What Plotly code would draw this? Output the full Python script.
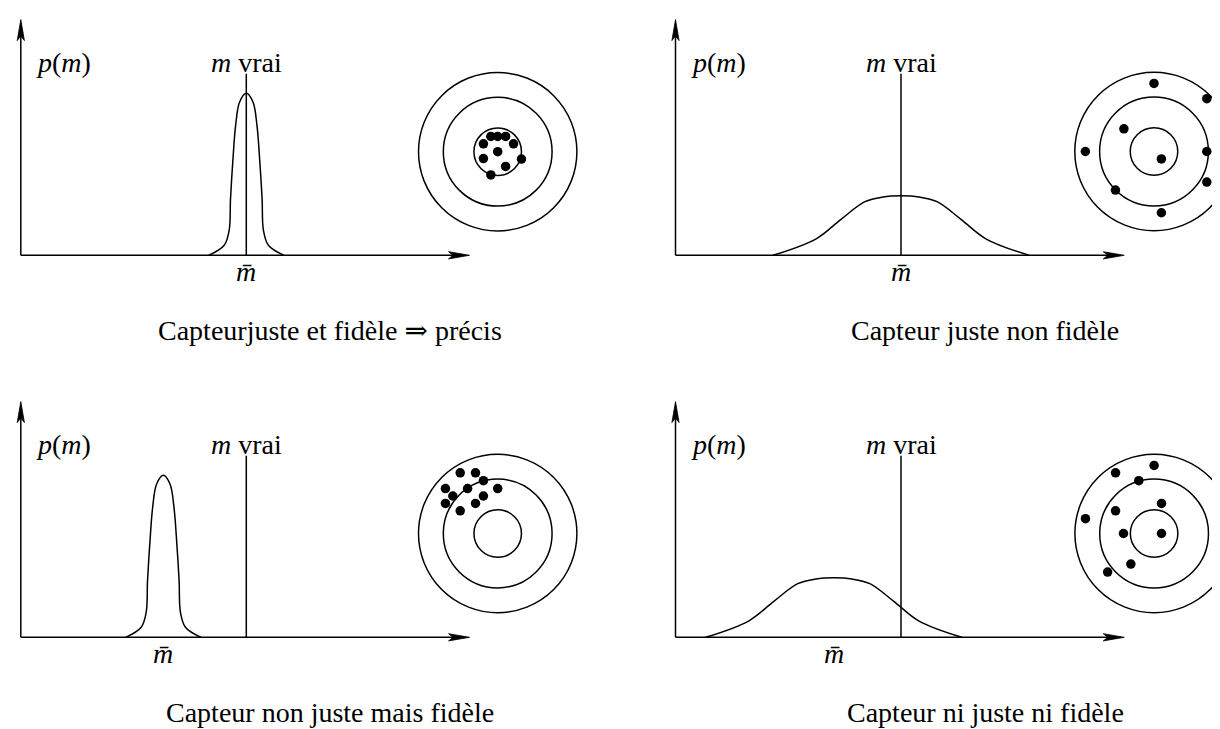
import plotly.graph_objects as go

W, H = 1220, 729

# ------------------------------------------------------------------ data
panel_titles = [
    "Capteurjuste et fidèle ⇒ précis",
    "Capteur juste non fidèle",
    "Capteur non juste mais fidèle",
    "Capteur ni juste ni fidèle",
]
m_vrai = 5.0                      # true value of the measurand
m_bar = [5.0, 5.0, 3.16, 3.51]    # mean of the measurements, per panel
curve_kind = ["narrow", "broad", "narrow", "broad"]

# distribution shapes (offset from m_bar, density)
narrow_dm = [-0.83, -0.49, -0.38, -0.35, -0.295, -0.237, -0.148, 0.0,
             0.148, 0.237, 0.295, 0.35, 0.38, 0.49, 0.83]
narrow_p = [0.0, 0.062, 0.154, 0.35, 0.597, 0.80, 0.946, 1.0,
            0.946, 0.80, 0.597, 0.35, 0.154, 0.062, 0.0]
broad_dm = [-2.84, -1.88, -1.33, -0.80, -0.40, 0.0, 0.40, 0.80, 1.33, 1.88, 2.84]
broad_p = [0.0, 0.102, 0.222, 0.331, 0.360, 0.367, 0.360, 0.331, 0.222, 0.102, 0.0]

# target rings
ring_radii = [1.5, 1.03, 0.45]

# impacts on the targets
hits1_x = [-0.13, 0.0, 0.15, -0.27, 0.30, 0.0, -0.27, 0.45, 0.15, -0.13]
hits1_y = [0.29, 0.29, 0.29, 0.15, 0.15, 0.0, -0.13, -0.14, -0.28, -0.44]
hits2_x = [0.0, 1.0, -0.57, -1.30, 1.0, 0.14, 1.0, -0.73, 0.14]
hits2_y = [1.29, 1.0, 0.43, 0.0, 0.0, -0.14, -0.58, -0.73, -1.16]
hits3_x = [-0.71, -0.42, -0.27, -0.99, -0.57, 0.0, -0.85, -0.27, -0.99, -0.42, -0.71]
hits3_y = [1.15, 1.15, 1.0, 0.85, 0.85, 0.85, 0.71, 0.71, 0.57, 0.57, 0.43]
hits4_x = [0.0, -0.73, -0.29, 0.14, -0.73, -1.30, -0.58, 0.14, -0.44, -0.88]
hits4_y = [1.29, 1.15, 1.0, 0.57, 0.43, 0.28, 0.0, 0.0, -0.58, -0.73]
hits_x = [hits1_x, hits2_x, hits3_x, hits4_x]
hits_y = [hits1_y, hits2_y, hits3_y, hits4_y]

# ------------------------------------------------------------------ layout geometry (pixels)
PX_M = 45.1     # pixels per unit of m
PX_P = 162.0    # pixels per unit of p(m)
PX_T = 52.8     # pixels per unit on the target
M_END = 9.95    # end of the m axis (arrow tip)
P_END = 1.455   # end of the p axis (arrow tip)
P_VRAI = 1.12   # height of the "m vrai" line
origins = [(12.8, 247.3), (667.5, 247.3), (12.8, 629.3), (667.5, 629.3)]
target_c = [(489.7, 143.7), (1146.0, 143.5), (489.7, 525.5), (1146.1, 525.5)]

FONT = "Liberation Serif, DejaVu Serif, serif"
FS = 28
LW = 1.5
BLACK = "black"

fig = go.Figure()
layout = dict(width=W, height=H, margin=dict(l=0, r=0, t=0, b=0),
              paper_bgcolor="white", plot_bgcolor="rgba(0,0,0,0)",
              showlegend=False, font=dict(family=FONT, size=FS, color=BLACK))
annotations = []
shapes = []


def xd(px):
    return min(max(px / W, 0.0), 1.0)


def yd(py):
    return min(max(1 - py / H, 0.0), 1.0)


def axname(k, letter):
    return letter + ("" if k == 1 else str(k))


for i in range(4):
    ox, oy = origins[i]
    ka, kt = 2 * i + 1, 2 * i + 2
    xa, ya = axname(ka, "x"), axname(ka, "y")
    xt, yt = axname(kt, "x"), axname(kt, "y")

    # --- distribution axes
    dx0, dx1 = max(ox - 12, 0), min(ox + 520, W)
    dy0, dy1 = oy - 245, oy + 97
    layout["xaxis" + ("" if ka == 1 else str(ka))] = dict(
        domain=[xd(dx0), xd(dx1)], range=[(dx0 - ox) / PX_M, (dx1 - ox) / PX_M],
        visible=False, anchor=ya, fixedrange=True)
    layout["yaxis" + ("" if ka == 1 else str(ka))] = dict(
        domain=[yd(dy1), yd(dy0)], range=[(oy - dy1) / PX_P, (oy - dy0) / PX_P],
        visible=False, anchor=xa, fixedrange=True)

    # axes lines
    fig.add_trace(go.Scatter(x=[0, M_END - 8 / PX_M], y=[0, 0], mode="lines",
                             line=dict(color=BLACK, width=LW), xaxis=xa, yaxis=ya,
                             hoverinfo="skip"))
    fig.add_trace(go.Scatter(x=[0, 0], y=[0, P_END - 8 / PX_P], mode="lines",
                             line=dict(color=BLACK, width=LW), xaxis=xa, yaxis=ya,
                             hoverinfo="skip"))
    # arrow heads (stealth style)
    L, HW, N = 21.0, 3.6, 4.5
    fig.add_trace(go.Scatter(
        x=[M_END, M_END - L / PX_M, M_END - (L - N) / PX_M, M_END - L / PX_M, M_END],
        y=[0, HW / PX_P, 0, -HW / PX_P, 0], mode="lines", fill="toself",
        fillcolor=BLACK, line=dict(color=BLACK, width=0.8), xaxis=xa, yaxis=ya,
        hoverinfo="skip"))
    fig.add_trace(go.Scatter(
        x=[0, HW / PX_M, 0, -HW / PX_M, 0],
        y=[P_END, P_END - L / PX_P, P_END - (L - N) / PX_P, P_END - L / PX_P, P_END],
        mode="lines", fill="toself", fillcolor=BLACK,
        line=dict(color=BLACK, width=0.8), xaxis=xa, yaxis=ya, hoverinfo="skip"))

    # true value line
    fig.add_trace(go.Scatter(x=[m_vrai, m_vrai], y=[0, P_VRAI], mode="lines",
                             line=dict(color=BLACK, width=LW), xaxis=xa, yaxis=ya,
                             hoverinfo="skip"))
    # distribution curve
    if curve_kind[i] == "narrow":
        dm, pv = narrow_dm, narrow_p
    else:
        dm, pv = broad_dm, broad_p
    fig.add_trace(go.Scatter(x=[m_bar[i] + d for d in dm], y=pv, mode="lines",
                             line=dict(color=BLACK, width=LW, shape="spline",
                                       smoothing=1.0),
                             xaxis=xa, yaxis=ya, hoverinfo="skip"))

    # labels
    annotations.append(dict(x=43 / PX_M, y=193 / PX_P, xref=xa, yref=ya,
                            text="<i>p</i>(<i>m</i>)", showarrow=False,
                            xanchor="center", yanchor="middle"))
    annotations.append(dict(x=m_vrai, y=193 / PX_P, xref=xa, yref=ya,
                            text="<i>m</i> vrai", showarrow=False,
                            xanchor="center", yanchor="middle"))
    annotations.append(dict(x=m_bar[i], y=-16 / PX_P, xref=xa, yref=ya,
                            text="<i>m\u0304</i>", showarrow=False,
                            xanchor="center", yanchor="middle"))
    annotations.append(dict(x=309.5 / PX_M, y=-75 / PX_P, xref=xa, yref=ya,
                            text=panel_titles[i], showarrow=False,
                            xanchor="center", yanchor="middle"))

    # --- target axes
    cx, cy = target_c[i]
    S = 88
    tx0, tx1 = max(cx - S, 0), min(cx + S, W)
    ty0, ty1 = cy - S, cy + S
    layout["xaxis" + str(kt)] = dict(
        domain=[xd(tx0), xd(tx1)], range=[(tx0 - cx) / PX_T, (tx1 - cx) / PX_T],
        visible=False, anchor=yt, fixedrange=True)
    layout["yaxis" + str(kt)] = dict(
        domain=[yd(ty1), yd(ty0)], range=[(cy - ty1) / PX_T, (cy - ty0) / PX_T],
        visible=False, anchor=xt, fixedrange=True)
    for r in ring_radii:
        shapes.append(dict(type="circle", xref=xt, yref=yt, x0=-r, x1=r, y0=-r, y1=r,
                           line=dict(color=BLACK, width=LW), layer="below"))
    fig.add_trace(go.Scatter(x=hits_x[i], y=hits_y[i], mode="markers",
                             marker=dict(color=BLACK, size=9.5, line=dict(width=0)),
                             xaxis=xt, yaxis=yt, hoverinfo="skip"))

layout["annotations"] = annotations
layout["shapes"] = shapes
fig.update_layout(**layout)
fig.write_html("out.html")
